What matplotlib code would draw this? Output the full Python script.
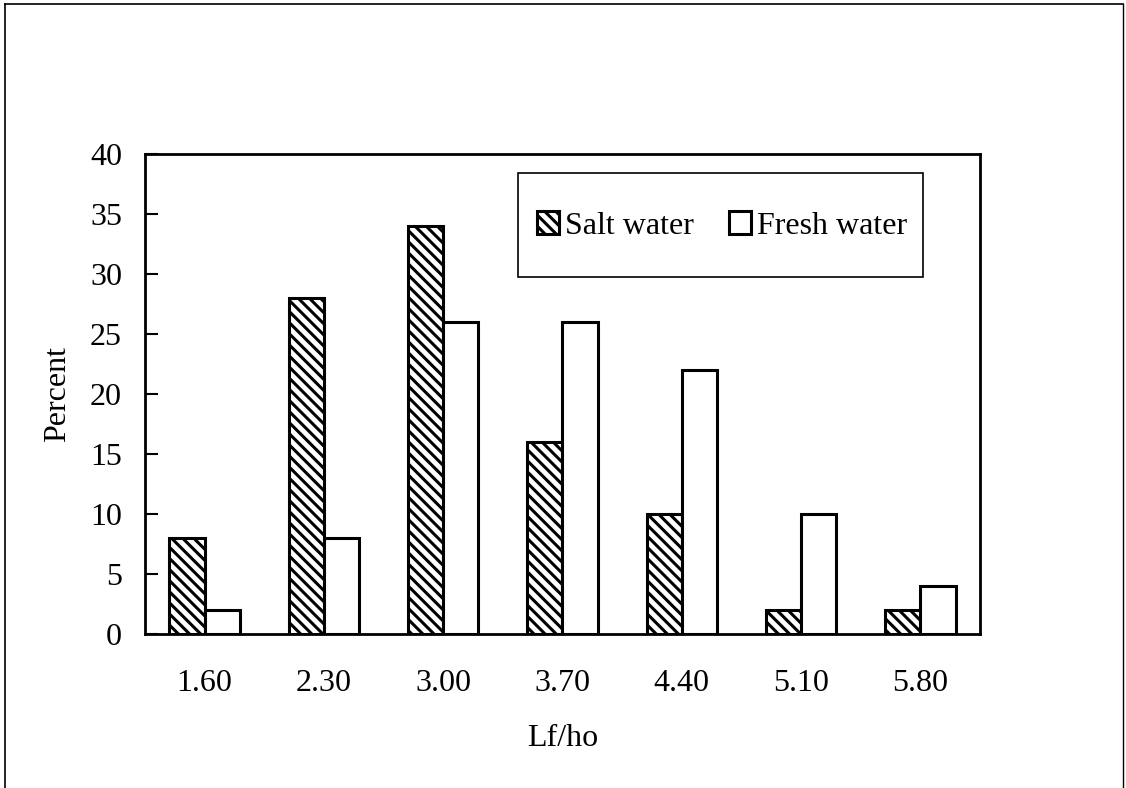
import matplotlib
matplotlib.use("Agg")
import matplotlib.pyplot as plt
import numpy as np
from matplotlib.lines import Line2D
from matplotlib.patches import Rectangle

categories = ["1.60", "2.30", "3.00", "3.70", "4.40", "5.10", "5.80"]
salt_water = [8, 28, 34, 16, 10, 2, 2]
fresh_water = [2, 8, 26, 26, 22, 10, 4]
yticks = [0, 5, 10, 15, 20, 25, 30, 35, 40]

plt.rcParams['font.family'] = ['Liberation Serif', 'DejaVu Serif']
plt.rcParams['hatch.linewidth'] = 2.2

fig = plt.figure(figsize=(11.26, 7.88), dpi=100)
W, H = 1126, 788
ax = fig.add_axes([145 / W, 1 - 634 / H, (980 - 145) / W, (634 - 154) / H])

x = np.arange(len(categories))
bw = 0.295
ax.bar(x - bw / 2, salt_water, bw, color='white', edgecolor='black',
       linewidth=2.2, hatch='\\\\\\', label='Salt water')
ax.bar(x + bw / 2, fresh_water, bw, color='white', edgecolor='black',
       linewidth=2.2, label='Fresh water')

ax.set_xlim(-0.5, len(categories) - 0.5)
ax.set_ylim(0, 40)
ax.set_yticks(yticks)
ax.set_xticks(x)
ax.set_xticklabels(categories)
ax.tick_params(axis='y', direction='in', length=9, width=1.5, labelsize=23, pad=16.5)
ax.tick_params(axis='x', length=0, labelsize=23, pad=25)
for s in ax.spines.values():
    s.set_linewidth(2)
ax.set_ylabel('Percent', fontsize=23)
ax.yaxis.set_label_coords(-0.087, 0.5)
ax.set_xlabel('Lf/ho', fontsize=23, labelpad=19)

leg = ax.legend(ncol=2, loc='center', bbox_to_anchor=(722 / W, 1 - 226 / H),
                bbox_transform=fig.transFigure, fontsize=23, frameon=False,
                handlelength=0.69, handleheight=0.69,
                handletextpad=0.2, columnspacing=1.1, borderpad=0,
                borderaxespad=0)
for h in leg.legend_handles:
    h.set_linewidth(2.2)

# legend frame
fig.add_artist(Rectangle((518 / W, 1 - 277 / H), (923 - 518) / W, (277 - 173) / H,
                         fill=False, edgecolor='black', lw=1.2, transform=fig.transFigure))

# outer frame
fig.add_artist(Line2D([5 / W, 5 / W], [0, 1 - 4 / H], color='black', lw=1.2, transform=fig.transFigure))
fig.add_artist(Line2D([5 / W, 1123 / W], [1 - 4 / H, 1 - 4 / H], color='black', lw=1.2, transform=fig.transFigure))
fig.add_artist(Line2D([1123 / W, 1123 / W], [0, 1 - 4 / H], color='black', lw=1.0, transform=fig.transFigure))

fig.savefig('out.png', dpi=100)
